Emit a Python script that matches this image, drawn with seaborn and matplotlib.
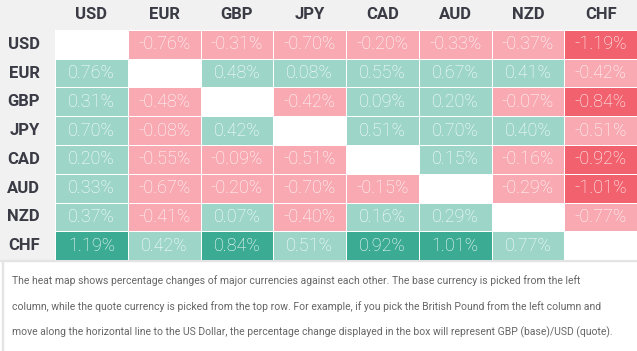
import numpy as np
import pandas as pd
import matplotlib.pyplot as plt
import seaborn as sns
from matplotlib.colors import ListedColormap, BoundaryNorm
from matplotlib.patches import Rectangle

currencies = ["USD", "EUR", "GBP", "JPY", "CAD", "AUD", "NZD", "CHF"]

# rows = base currency, columns = quote currency (percent change)
usd = [np.nan, -0.76, -0.31, -0.70, -0.20, -0.33, -0.37, -1.19]
eur = [0.76, np.nan, 0.48, 0.08, 0.55, 0.67, 0.41, -0.42]
gbp = [0.31, -0.48, np.nan, -0.42, 0.09, 0.20, -0.07, -0.84]
jpy = [0.70, -0.08, 0.42, np.nan, 0.51, 0.70, 0.40, -0.51]
cad = [0.20, -0.55, -0.09, -0.51, np.nan, 0.15, -0.16, -0.92]
aud = [0.33, -0.67, -0.20, -0.70, -0.15, np.nan, -0.29, -1.01]
nzd = [0.37, -0.41, 0.07, -0.40, 0.16, 0.29, np.nan, -0.77]
chf = [1.19, 0.42, 0.84, 0.51, 0.92, 1.01, 0.77, np.nan]

caption = ("The heat map shows percentage changes of major currencies against each other. The base currency is picked from the left\n"
           "column, while the quote currency is picked from the top row. For example, if you pick the British Pound from the left column and\n"
           "move along the horizontal line to the US Dollar, the percentage change displayed in the box will represent GBP (base)/USD (quote).")

df = pd.DataFrame([usd, eur, gbp, jpy, cad, aud, nzd, chf], index=currencies, columns=currencies)
labels = df.map(lambda v: "" if pd.isna(v) else f"{v:.2f}%")

# discrete buckets: strong red / light red / light green / strong green
cmap = ListedColormap(["#F2616E", "#F8A9B1", "#9DD6C9", "#3BAB93"])
norm = BoundaryNorm([-10, -0.8, 0, 0.8, 10], cmap.N)

W, H = 637, 351
fig = plt.figure(figsize=(W / 100, H / 100), dpi=100)
fig.patch.set_facecolor("white")

# gray header band and label column (behind the axes)
gray = "#F1F1F1"
fig.patches.append(Rectangle((0, 1 - 30 / H), 1, 30 / H, transform=fig.transFigure, color=gray, zorder=-5))
fig.patches.append(Rectangle((0, 1 - 260 / H), 55 / W, 230 / H, transform=fig.transFigure, color=gray, zorder=-5))
fig.patches.append(Rectangle((0, 1 - 261 / H), 1, 1 / H, transform=fig.transFigure, color="#E4E4E4", zorder=-5))
fig.patches.append(Rectangle((2 / W, 0), 1 / W, 1 - 261 / H, transform=fig.transFigure, color="#E4E4E4", zorder=-5))

ax = fig.add_axes([55 / W, 1 - 260 / H, 582 / W, 230 / H])
ax.set_facecolor("white")
sns.heatmap(df, ax=ax, cmap=cmap, norm=norm, annot=labels, fmt="", cbar=False,
            linewidths=0.6, linecolor="white",
            annot_kws={"color": "white", "fontsize": 13, "family": "Roboto", "fontweight": "light"})

ax.xaxis.tick_top()
ax.tick_params(length=0)
ax.tick_params(axis="x", pad=6)
ax.tick_params(axis="y", pad=11)
ax.set_xlabel("")
ax.set_ylabel("")
for t in ax.get_xticklabels() + ax.get_yticklabels():
    t.set_fontfamily("Roboto")
    t.set_fontweight("bold")
    t.set_fontsize(12)
    t.set_color("#3A3B45")
for t in ax.get_yticklabels():
    t.set_rotation(0)

fig.text(12 / W, 1 - 275 / H, caption, ha="left", va="top", fontsize=7.5,
         family="Roboto", color="#666666", linespacing=2.68)

plt.savefig("out.png", dpi=100)
plt.close()
